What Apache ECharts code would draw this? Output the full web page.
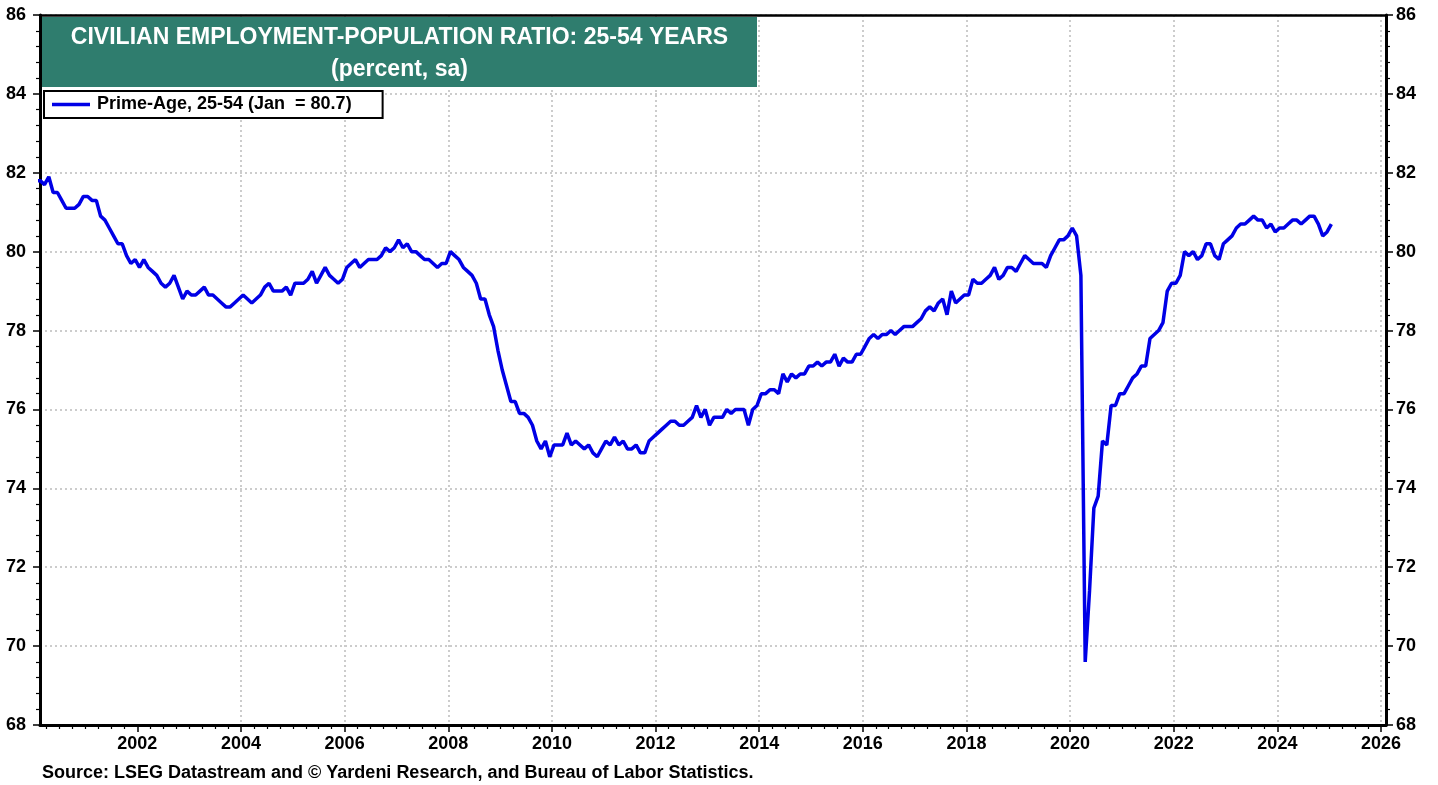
<!DOCTYPE html>
<html>
<head>
<meta charset="utf-8">
<script src="https://cdn.jsdelivr.net/npm/echarts@6/dist/echarts.min.js"></script>
<style>
html,body{margin:0;padding:0;background:#fff;}
#chart{width:1438px;height:785px;}
</style>
</head>
<body>
<div id="chart"></div>
<script>
// Monthly values (Jan..Dec)
const v2000 = [81.8, 81.8, 81.7, 81.9, 81.5, 81.5, 81.3, 81.1, 81.1, 81.1, 81.2, 81.4];
const v2001 = [81.4, 81.3, 81.3, 80.9, 80.8, 80.6, 80.4, 80.2, 80.2, 79.9, 79.7, 79.8];
const v2002 = [79.6, 79.8, 79.6, 79.5, 79.4, 79.2, 79.1, 79.2, 79.4, 79.1, 78.8, 79.0];
const v2003 = [78.9, 78.9, 79.0, 79.1, 78.9, 78.9, 78.8, 78.7, 78.6, 78.6, 78.7, 78.8];
const v2004 = [78.9, 78.8, 78.7, 78.8, 78.9, 79.1, 79.2, 79.0, 79.0, 79.0, 79.1, 78.9];
const v2005 = [79.2, 79.2, 79.2, 79.3, 79.5, 79.2, 79.4, 79.6, 79.4, 79.3, 79.2, 79.3];
const v2006 = [79.6, 79.7, 79.8, 79.6, 79.7, 79.8, 79.8, 79.8, 79.9, 80.1, 80.0, 80.1];
const v2007 = [80.3, 80.1, 80.2, 80.0, 80.0, 79.9, 79.8, 79.8, 79.7, 79.6, 79.7, 79.7];
const v2008 = [80.0, 79.9, 79.8, 79.6, 79.5, 79.4, 79.2, 78.8, 78.8, 78.4, 78.1, 77.5];
const v2009 = [77.0, 76.6, 76.2, 76.2, 75.9, 75.9, 75.8, 75.6, 75.2, 75.0, 75.2, 74.8];
const v2010 = [75.1, 75.1, 75.1, 75.4, 75.1, 75.2, 75.1, 75.0, 75.1, 74.9, 74.8, 75.0];
const v2011 = [75.2, 75.1, 75.3, 75.1, 75.2, 75.0, 75.0, 75.1, 74.9, 74.9, 75.2, 75.3];
const v2012 = [75.4, 75.5, 75.6, 75.7, 75.7, 75.6, 75.6, 75.7, 75.8, 76.1, 75.8, 76.0];
const v2013 = [75.6, 75.8, 75.8, 75.8, 76.0, 75.9, 76.0, 76.0, 76.0, 75.6, 76.0, 76.1];
const v2014 = [76.4, 76.4, 76.5, 76.5, 76.4, 76.9, 76.7, 76.9, 76.8, 76.9, 76.9, 77.1];
const v2015 = [77.1, 77.2, 77.1, 77.2, 77.2, 77.4, 77.1, 77.3, 77.2, 77.2, 77.4, 77.4];
const v2016 = [77.6, 77.8, 77.9, 77.8, 77.9, 77.9, 78.0, 77.9, 78.0, 78.1, 78.1, 78.1];
const v2017 = [78.2, 78.3, 78.5, 78.6, 78.5, 78.7, 78.8, 78.4, 79.0, 78.7, 78.8, 78.9];
const v2018 = [78.9, 79.3, 79.2, 79.2, 79.3, 79.4, 79.6, 79.3, 79.4, 79.6, 79.6, 79.5];
const v2019 = [79.7, 79.9, 79.8, 79.7, 79.7, 79.7, 79.6, 79.9, 80.1, 80.3, 80.3, 80.4];
const v2020 = [80.6, 80.4, 79.4, 69.6, 71.4, 73.5, 73.8, 75.2, 75.1, 76.1, 76.1, 76.4];
const v2021 = [76.4, 76.6, 76.8, 76.9, 77.1, 77.1, 77.8, 77.9, 78.0, 78.2, 79.0, 79.2];
const v2022 = [79.2, 79.4, 80.0, 79.9, 80.0, 79.8, 79.9, 80.2, 80.2, 79.9, 79.8, 80.2];
const v2023 = [80.3, 80.4, 80.6, 80.7, 80.7, 80.8, 80.9, 80.8, 80.8, 80.6, 80.7, 80.5];
const v2024 = [80.6, 80.6, 80.7, 80.8, 80.8, 80.7, 80.8, 80.9, 80.9, 80.7, 80.4, 80.5];
const v2025 = [80.7];

const startYear = 2000;
const yearlyValues = [v2000, v2001, v2002, v2003, v2004, v2005, v2006, v2007, v2008, v2009,
  v2010, v2011, v2012, v2013, v2014, v2015, v2016, v2017, v2018, v2019,
  v2020, v2021, v2022, v2023, v2024, v2025];

const yearTickLabels = [2002, 2004, 2006, 2008, 2010, 2012, 2014, 2016, 2018, 2020, 2022, 2024, 2026];
const seriesName = 'Prime-Age, 25-54 (Jan  = 80.7)';
const titleLine1 = 'CIVILIAN EMPLOYMENT-POPULATION RATIO: 25-54 YEARS';
const titleLine2 = '(percent, sa)';
const sourceText = 'Source: LSEG Datastream and \u00A9 Yardeni Research, and Bureau of Labor Statistics.';

// build [decimal year (mid-month), value] pairs
const seriesData = [];
yearlyValues.forEach((arr, yi) => {
  arr.forEach((v, mi) => seriesData.push([startYear + yi + (mi + 0.5) / 12, v]));
});

const FONT = 'Arial, "Liberation Sans", sans-serif';
const labelStyle = { color: '#000', fontWeight: 'bold', fontSize: 18, fontFamily: FONT };
const gridLine = { color: '#cccccc', width: 2, type: [2, 3] };

// layout (pixels)
const X2000 = 33.7, PXY = 51.82, BOX_L = 40, BOX_R = 1386, TOP = 15, BOT = 725;
const W = 1438, H = 785;
const xMin = 2000 + (BOX_L - X2000) / PXY;
const xMax = 2000 + (BOX_R - X2000) / PXY;

const chart = echarts.init(document.getElementById('chart'), null, { renderer: 'canvas' });
chart.setOption({
  animation: false,
  backgroundColor: '#fff',
  grid: [
    { left: BOX_L, right: W - BOX_R, top: TOP, bottom: H - BOT },
    { left: X2000, width: 26 * PXY, top: TOP, bottom: H - BOT }
  ],
  xAxis: [
    { gridIndex: 0, type: 'value', min: xMin, max: xMax, position: 'bottom',
      axisLine: { show: true, onZero: false, lineStyle: { color: '#000', width: 3 } },
      axisTick: { show: false }, axisLabel: { show: false }, splitLine: { show: false } },
    { gridIndex: 0, type: 'value', min: xMin, max: xMax, position: 'top',
      axisLine: { show: true, onZero: false, lineStyle: { color: '#000', width: 2.5 } },
      axisTick: { show: false }, axisLabel: { show: false }, splitLine: { show: false } },
    { gridIndex: 1, type: 'value', min: 2000, max: 2026, interval: 2, position: 'bottom',
      axisLine: { show: false, onZero: false },
      axisTick: { show: true, length: 7, customValues: yearTickLabels, lineStyle: { color: '#000', width: 1.5 } },
      minorTick: { show: true, splitNumber: 8, length: 4, lineStyle: { color: '#000', width: 1.2 } },
      axisLabel: Object.assign({}, labelStyle, { margin: 10, formatter: v => (yearTickLabels.indexOf(v) >= 0 ? String(v) : '') }),
      splitLine: { show: true, showMinLine: false, showMaxLine: true, lineStyle: gridLine } }
  ],
  yAxis: [
    { gridIndex: 0, type: 'value', min: 68, max: 86, interval: 2, position: 'left',
      axisLine: { show: true, onZero: false, lineStyle: { color: '#000', width: 3 } },
      axisTick: { show: true, length: 7, lineStyle: { color: '#000', width: 1.5 } },
      minorTick: { show: true, splitNumber: 5, length: 4, lineStyle: { color: '#000', width: 1.2 } },
      axisLabel: Object.assign({}, labelStyle, { margin: 14 }),
      splitLine: { show: true, lineStyle: gridLine } },
    { gridIndex: 0, type: 'value', min: 68, max: 86, interval: 2, position: 'right',
      axisLine: { show: true, onZero: false, lineStyle: { color: '#000', width: 3 } },
      axisTick: { show: true, length: 7, lineStyle: { color: '#000', width: 1.5 } },
      minorTick: { show: true, splitNumber: 5, length: 4, lineStyle: { color: '#000', width: 1.2 } },
      axisLabel: Object.assign({}, labelStyle, { margin: 10 }),
      splitLine: { show: false } },
    { gridIndex: 1, type: 'value', min: 68, max: 86, show: false, splitLine: { show: false } }
  ],
  legend: {
    show: true,
    data: [{ name: seriesName, icon: 'rect' }],
    left: 44, top: 91,
    itemWidth: 38, itemHeight: 3.5,
    padding: [4, 31, 4, 8],
    backgroundColor: '#fff',
    borderColor: '#000', borderWidth: 2, borderRadius: 0,
    selectedMode: false,
    textStyle: Object.assign({}, labelStyle, { padding: [0, 0, 0, 2], lineHeight: 19 })
  },
  graphic: [
    { type: 'rect', left: 42, top: 17, z: 100,
      shape: { x: 0, y: 0, width: 715, height: 70 },
      style: { fill: '#2f7d6e' } },
    { type: 'text', x: 399.5, y: 38, z: 101,
      style: { text: titleLine1, fill: '#fff', font: 'bold 23px ' + FONT,
               align: 'center', verticalAlign: 'middle', textAlign: 'center', textVerticalAlign: 'middle' } },
    { type: 'text', x: 399.5, y: 70, z: 101,
      style: { text: titleLine2, fill: '#fff', font: 'bold 23px ' + FONT,
               align: 'center', verticalAlign: 'middle', textAlign: 'center', textVerticalAlign: 'middle' } },
    { type: 'text', x: 42, y: 773, z: 101,
      style: { text: sourceText, fill: '#000', font: 'bold 18px ' + FONT,
               align: 'left', verticalAlign: 'middle', textAlign: 'left', textVerticalAlign: 'middle' } }
  ],
  series: [
    { type: 'line', name: seriesName, xAxisIndex: 0, yAxisIndex: 0,
      data: seriesData, showSymbol: false, symbol: 'none', clip: true,
      lineStyle: { color: '#0000e6', width: 3.5 }, itemStyle: { color: '#0000e6' }, z: 3 }
  ]
});
</script>
</body>
</html>
